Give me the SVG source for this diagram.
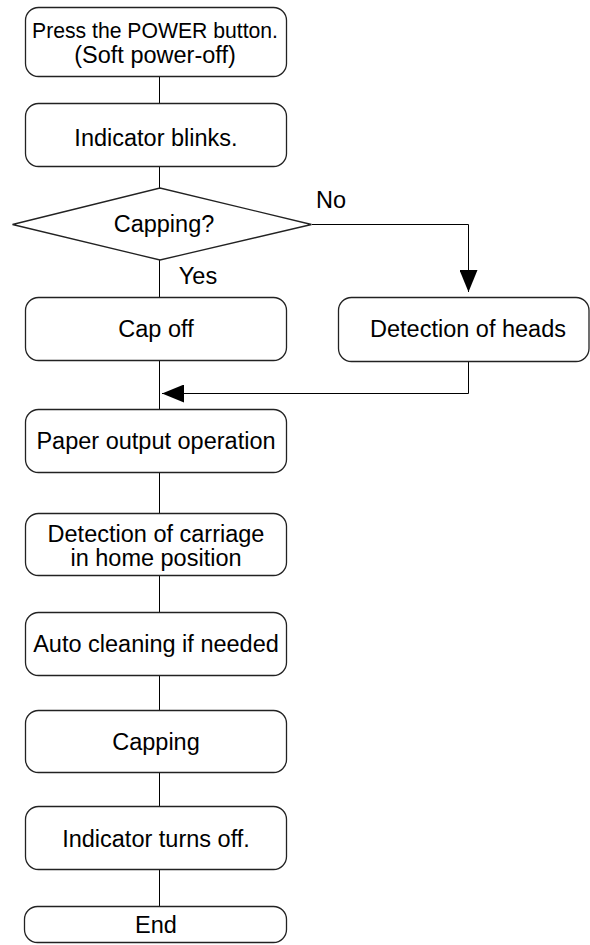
<svg xmlns="http://www.w3.org/2000/svg" width="590" height="945" viewBox="0 0 590 945">
<style>
.box{fill:#fff;stroke:#222;stroke-width:1.3}
.ln{fill:none;stroke:#000;stroke-width:1}
text{font-family:"Liberation Sans",Arial,Helvetica,sans-serif;font-size:23.5px;fill:#000;text-anchor:middle}
text.sm{font-size:22px}
</style>
<defs>
<marker id="ah" viewBox="0 0 22 18" refX="22" refY="9" markerWidth="22" markerHeight="18" markerUnits="userSpaceOnUse" orient="auto">
<path d="M0,0 L22,9 L0,18 Z" fill="#000"/>
</marker>
</defs>
<rect width="590" height="945" fill="#fff"/>
<g id="connectors">
<line class="ln" x1="159.5" y1="77" x2="159.5" y2="103"/>
<line class="ln" x1="159.5" y1="167" x2="159.5" y2="188"/>
<line class="ln" x1="159.5" y1="260" x2="159.5" y2="297"/>
<line class="ln" x1="159.5" y1="361" x2="159.5" y2="409"/>
<line class="ln" x1="159.5" y1="473" x2="159.5" y2="513"/>
<line class="ln" x1="159.5" y1="576" x2="159.5" y2="612"/>
<line class="ln" x1="159.5" y1="676" x2="159.5" y2="710"/>
<line class="ln" x1="159.5" y1="773" x2="159.5" y2="806"/>
<line class="ln" x1="159.5" y1="870" x2="159.5" y2="906"/>
<path class="ln" d="M312,224.5 H468.5 V292" marker-end="url(#ah)"/>
<path class="ln" d="M468.5,362 V393.5 H162" marker-end="url(#ah)"/>
</g>
<g id="n1">
<rect class="box" x="25.5" y="7.5" width="261" height="69" rx="13"/>
<text class="sm" x="155" y="37.5" textLength="246" lengthAdjust="spacingAndGlyphs">Press the POWER button.</text>
<text x="155" y="63">(Soft power-off)</text>
</g>
<g id="n2">
<rect class="box" x="25.5" y="103.5" width="261" height="63" rx="13"/>
<text x="156" y="146">Indicator blinks.</text>
</g>
<g id="n3">
<path class="box" d="M12.5,224.5 L160,188 L311.5,224.5 L160,260 Z"/>
<text x="164" y="232">Capping?</text>
</g>
<g id="lbl-no"><text x="331" y="208">No</text></g>
<g id="lbl-yes"><text x="198" y="284">Yes</text></g>
<g id="n4">
<rect class="box" x="25.5" y="297.5" width="261" height="63" rx="13"/>
<text x="156" y="337">Cap off</text>
</g>
<g id="n5">
<rect class="box" x="338.5" y="297.5" width="250.5" height="64" rx="13"/>
<text x="468" y="337">Detection of heads</text>
</g>
<g id="n6">
<rect class="box" x="25.5" y="409.5" width="261" height="63" rx="13"/>
<text x="156" y="449">Paper output operation</text>
</g>
<g id="n7">
<rect class="box" x="25.5" y="513.5" width="261" height="62" rx="13"/>
<text x="156" y="542">Detection of carriage</text>
<text x="156" y="566">in home position</text>
</g>
<g id="n8">
<rect class="box" x="25.5" y="612.5" width="261" height="63" rx="13"/>
<text x="156" y="652">Auto cleaning if needed</text>
</g>
<g id="n9">
<rect class="box" x="25.5" y="710.5" width="261" height="62" rx="13"/>
<text x="156" y="750">Capping</text>
</g>
<g id="n10">
<rect class="box" x="25.5" y="806.5" width="261" height="63" rx="13"/>
<text x="156" y="847">Indicator turns off.</text>
</g>
<g id="n11">
<rect class="box" x="24.5" y="906.5" width="262" height="36" rx="13"/>
<text x="156" y="933">End</text>
</g>
</svg>
